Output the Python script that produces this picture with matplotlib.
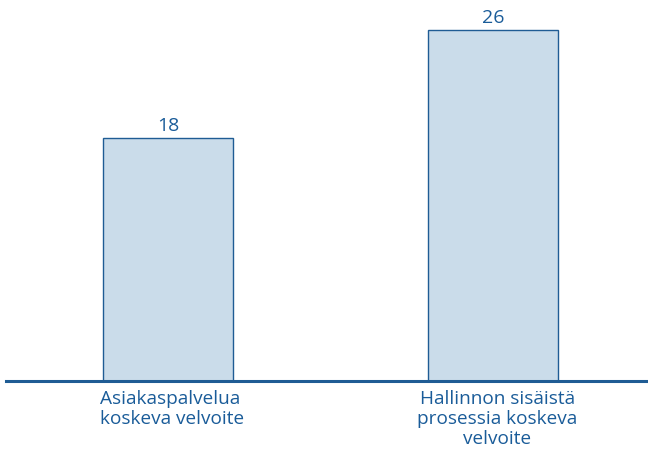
import matplotlib
matplotlib.use("Agg")
import matplotlib.pyplot as plt

categories = ["Asiakaspalvelua\nkoskeva velvoite", "Hallinnon sisäistä\nprosessia koskeva\nvelvoite"]
values = [18, 26]
aligns = ["left", "center"]

W, H = 648, 453
fig = plt.figure(figsize=(W/100, H/100), dpi=100)
base = 381
ax = fig.add_axes([6/W, (H-base)/H, 1-6/W, base/H])

fill = "#cadcea"
edge = "#1f5c94"
txt = "#1a5c99"
font = "Open Sans"

x = list(range(len(values)))
ax.bar(x, values, width=0.4, color=fill, edgecolor=edge, linewidth=1.0, zorder=2)
ax.set_xlim(-0.5, 1.477)
ax.set_ylim(0, base/13.5)
for s in ["top", "right", "left"]:
    ax.spines[s].set_visible(False)
ax.spines["bottom"].set_color(edge)
ax.spines["bottom"].set_linewidth(2.2)
ax.set_yticks([])
ax.set_xticks([])

for xi, v in zip(x, values):
    ax.annotate(str(v), (xi, v), xytext=(0, 2), textcoords="offset points",
                ha="center", va="bottom", color=txt, fontsize=14, family=font)

for xi, lab, al in zip(x, categories, aligns):
    ax.annotate(lab, (xi, 0), xytext=(3, -6.5), textcoords="offset points",
                ha="center", va="top", multialignment=al, color=txt,
                fontsize=13.7, family=font, linespacing=1.15)

fig.savefig("out.png", dpi=100)
